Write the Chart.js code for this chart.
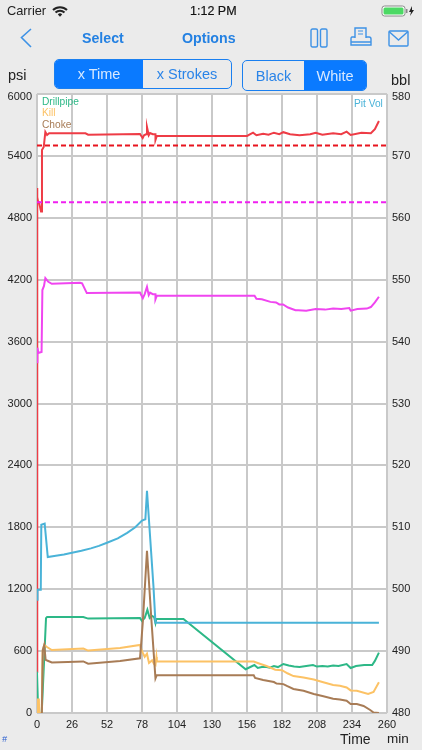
<!DOCTYPE html>
<html><head><meta charset="utf-8">
<script src="https://cdn.jsdelivr.net/npm/chart.js@4"></script>
<style>
html,body{margin:0;padding:0;background:#ebebeb;width:422px;height:750px;overflow:hidden;font-family:"Liberation Sans",Arial,sans-serif}
canvas{position:absolute;left:0;top:0}
.t{position:absolute;white-space:nowrap;line-height:1}
.seg{position:absolute;box-sizing:border-box;border:1.5px solid #1a7ff0;display:flex;overflow:hidden;font-size:14.5px}
.seg div{display:flex;align-items:center;justify-content:center;color:#2a84e8}
.seg .on{background:#0a7aff;color:#d8e9ff}
svg{position:absolute;overflow:visible}
</style></head><body>
<canvas id="c" width="422" height="750"></canvas>

<div class="t" style="left:7px;top:5px;font-size:12.8px;color:#222">Carrier</div>
<svg style="left:52px;top:6px" width="16" height="11" viewBox="0 0 16 11"><path d="M1 4 A10 10 0 0 1 15 4 M3.5 6.5 A6.5 6.5 0 0 1 12.5 6.5" fill="none" stroke="#222" stroke-width="2"/><path d="M5.8 8.4 A3.2 3.2 0 0 1 10.2 8.4 L8 10.8Z" fill="#222"/></svg>
<div class="t" style="left:190px;top:5px;font-size:12.5px;color:#111;-webkit-text-stroke:.2px #111">1:12 PM</div>
<svg style="left:381px;top:5px" width="33" height="12" viewBox="0 0 33 12"><rect x="1" y="1" width="23" height="10" rx="2.5" fill="#fff" stroke="#888"/><rect x="2.5" y="2.5" width="20" height="7" rx="1.5" fill="#4cd964"/><rect x="25" y="4" width="1.5" height="4" fill="#888"/><path d="M31 1 L28 7 H30 L29 11 L33 5 H31Z" fill="#222"/></svg>

<svg style="left:20px;top:28px" width="12" height="20" viewBox="0 0 12 20"><path d="M11 1 L1.5 9.5 L11 19" fill="none" stroke="#3e92e6" stroke-width="1.6"/></svg>
<div class="t" style="left:82px;top:31px;font-size:14.2px;font-weight:700;color:#2481e2">Select</div>
<div class="t" style="left:182px;top:31px;font-size:14.2px;font-weight:700;color:#2481e2">Options</div>
<svg style="left:310px;top:28px" width="18" height="20" viewBox="0 0 18 20"><rect x="1" y="1" width="6.5" height="18" rx="1.5" fill="none" stroke="#3e92e6" stroke-width="1.4"/><rect x="10.5" y="1" width="6.5" height="18" rx="1.5" fill="none" stroke="#3e92e6" stroke-width="1.4"/></svg>
<svg style="left:350px;top:27px" width="22" height="20" viewBox="0 0 22 20"><path d="M5 11 V1 H16 V11" fill="none" stroke="#3e92e6" stroke-width="1.4"/><path d="M8 4 H13 M8 7 H13" stroke="#3e92e6" stroke-width="1.2"/><path d="M5 10 H2 Q1 10 1 12 V18 H21 V12 Q21 10 19 10 H16 M1 15 H21" fill="none" stroke="#3e92e6" stroke-width="1.4"/></svg>
<svg style="left:388px;top:30px" width="21" height="17" viewBox="0 0 21 17"><rect x="1" y="1" width="19" height="15" rx="1" fill="none" stroke="#3e92e6" stroke-width="1.4"/><path d="M1 1.5 L10.5 10 L20 1.5" fill="none" stroke="#3e92e6" stroke-width="1.4"/></svg>

<div class="seg" style="left:54px;top:59px;width:178px;height:30px;border-radius:5px"><div class="on" style="width:88px">x Time</div><div style="flex:1">x Strokes</div></div>
<div class="seg" style="left:242px;top:60px;width:125px;height:31px;border-radius:5px"><div style="width:61px">Black</div><div class="on" style="flex:1">White</div></div>

<div class="t" style="left:8px;top:68px;font-size:14.5px;color:#222">psi</div>
<div class="t" style="left:391px;top:73px;font-size:14.5px;color:#222">bbl</div>

<div class="t" style="left:42px;top:97px;font-size:10.2px;color:#2db887">Drillpipe</div>
<div class="t" style="left:42px;top:108px;font-size:10.2px;color:#fcc265">Kill</div>
<div class="t" style="left:42px;top:120px;font-size:10.2px;color:#a87c56">Choke</div>
<div class="t" style="left:354px;top:99px;font-size:10.2px;color:#4ab3d8">Pit Vol</div>

<div class="t" style="left:340px;top:732px;font-size:14px;color:#222">Time</div>
<div class="t" style="left:387px;top:732px;font-size:13.5px;color:#222">min</div>
<div class="t" style="left:2px;top:735px;font-size:9px;font-style:italic;color:#2a5fd0">#</div>

<script>
const xTicks = [0,26,52,78,104,130,156,182,208,234,260];
const psiTicks = [0,600,1200,1800,2400,3000,3600,4200,4800,5400,6000];
const bblTicks = [480,490,500,510,520,530,540,550,560,570,580];

const redT = [0,0,0.4,0.9,1.5,3,3.7,5,6.2,7.5,9,36,38,76.5,78.5,79.5,81,81.7,83,84,86,88,88,89,156,160.5,163,168,172,176,180,183,188,195,203,207,212,220,226,230,233,241,248,251,254];
const redV = [400,5090,5000,4950,4950,4860,5457,5486,5632,5603,5619,5619,5606,5612,5573,5600,5610,5680,5600,5622,5610,5610,5554,5593,5593,5625,5600,5615,5605,5625,5610,5630,5610,5600,5610,5625,5605,5620,5610,5635,5603,5625,5620,5660,5738];

const magT = [0,0.3,1,3.4,4,5.2,6.2,8.4,11,32,33.5,37,76.5,78.6,80,81.7,83,84,86,88,88,89,156,161.6,163,167,173.4,177.6,180,182.8,186.5,192,194,200,207,214,220,226,232,233,238,245,248,251,254];
const magV = [3400,3540,3490,3500,4100,4140,4215,4180,4160,4170,4165,4070,4075,4020,4060,4130,4050,4075,4060,4060,4010,4045,4045,4045,4015,4010,3985,3980,3960,3960,3930,3905,3905,3900,3915,3910,3920,3915,3925,3900,3915,3920,3935,3980,4035];

const pitT = [0,0.4,1.5,2.8,3.2,5.7,8,14,20,26,33,40,46,52,60,67,73,78,80.5,81.7,86.5,88,254];
const pitV = [498.3,499.9,499.9,499.9,510.4,510.6,505.2,505.4,505.6,505.9,506.2,506.6,507,507.5,508.2,509.1,510,511.1,511.3,515.9,500.5,494.6,494.6];

const drillT = [0,0.5,0.9,3.5,6.7,7.5,34.4,38,76.5,78,80,82,83.7,85.5,87,88,88.6,108.8,155,161.5,164,167,170.5,173,176,179,183,187,191,195,200,205,208,212,216,220,224,230,233,237,243,249,251,254];
const drillV = [400,400,0,0,920,930,930,915,920,893,920,1000,920,940,930,872,911,911,424,465,436,445,446,440,455,445,475,460,450,446,455,465,450,455,450,460,455,475,436,455,465,465,505,585];

const killT = [0,0.5,1.4,1.6,3.5,4.2,5.4,7.4,11,34.4,38,61.7,76.5,77,78.7,80,81.7,83.2,85.5,87,88,88.7,89,161,166,170.5,177,182,186,190.5,198,205.6,212,220,225,230,233,237.6,246,250,254];
const killV = [0,130,130,0,0,610,660,640,610,625,605,630,660,630,580,545,575,485,510,475,465,543,498,498,475,455,420,415,385,358,345,325,300,271,265,248,219,215,184,203,298];

const chokeT = [3.6,4.3,5.4,6.4,8.4,11,34.4,38,61.7,76.5,77.2,78.7,81.7,85,88,88.9,161,162,168,176,178,183,186,190.5,198,205.6,212,220,225,230,233,237.6,242.6,247.5,250,254];
const chokeV = [0,610,660,515,504,490,500,478,505,530,640,900,1573,900,336,365,365,340,320,300,285,280,260,233,215,184,165,139,130,119,87,87,68,29,5,0];

const kickPsi = [5500,5500];
const limitPsi = [4950,4950];
const limitT = [0,260];

const zip = (t,v) => t.map((x,i)=>({x,y:v[i]}));
const C = {red:'#ee3c46',mag:'#f045f0',pit:'#4ab3d8',drill:'#2db887',kill:'#fcc265',choke:'#a87c56',grid:'#c9c9c9',ink:'#222'};
const line = (label,t,v,color,axis,extra) => Object.assign({label,data:zip(t,v),borderColor:color,yAxisID:axis,borderWidth:2,pointRadius:0,tension:0,fill:false},extra||{});

const plotBg = {id:'plotBg',beforeDraw(ch){const a=ch.chartArea,g=ch.ctx;g.save();g.fillStyle='#fff';g.fillRect(a.left,a.top,a.width,a.height);g.restore();}};

const tickFont = (top) => (ctx) => ({family:'"Liberation Sans"',size:11,lineHeight: ctx.tick && ctx.tick.value===top ? 0.55 : 1.2});
const tickText = (top) => (v) => v===top ? ['',String(v)] : String(v);

new Chart(document.getElementById('c'),{
  type:'line',
  plugins:[plotBg],
  data:{datasets:[
    line('Pit Vol',pitT,pitV,C.pit,'y1'),
    line('Choke',chokeT,chokeV,C.choke,'y'),
    line('Kill',killT,killV,C.kill,'y'),
    line('Drillpipe',drillT,drillV,C.drill,'y'),
    line('Casing limit',limitT,kickPsi,'#e8141e','y',{borderDash:[5,3]}),
    line('Drill limit',limitT,limitPsi,'#f020f0','y',{borderDash:[5,3]}),
    line('Magenta',magT,magV,C.mag,'y'),
    line('Red',redT,redV,C.red,'y')
  ]},
  options:{
    responsive:false,animation:false,devicePixelRatio:1,
    layout:{padding:{top:94,left:0,right:0,bottom:0}},
    plugins:{legend:{display:false},tooltip:{enabled:false}},
    scales:{
      x:{type:'linear',min:0,max:260,
        afterBuildTicks(s){s.ticks=xTicks.map(value=>({value}));},
        afterFit(s){s.height=37;},
        grid:{color:C.grid,lineWidth:2,drawTicks:false},border:{display:false},
        ticks:{color:C.ink,font:{family:'"Liberation Sans"',size:11},padding:5,maxRotation:0,autoSkip:false,callback:v=>String(v)}},
      y:{type:'linear',position:'left',min:0,max:6000,
        afterBuildTicks(s){s.ticks=psiTicks.map(value=>({value}));},
        afterFit(s){s.width=37;},
        grid:{color:C.grid,lineWidth:2,drawTicks:false},border:{display:false},
        ticks:{color:C.ink,font:tickFont(6000),padding:5,autoSkip:false,callback:tickText(6000)}},
      y1:{type:'linear',position:'right',min:480,max:580,
        afterBuildTicks(s){s.ticks=bblTicks.map(value=>({value}));},
        afterFit(s){s.width=35;},
        grid:{drawOnChartArea:false,drawTicks:false},border:{display:false},
        ticks:{color:C.ink,font:tickFont(580),padding:5,autoSkip:false,callback:tickText(580)}}
    }
  }
});
</script>
</body></html>
